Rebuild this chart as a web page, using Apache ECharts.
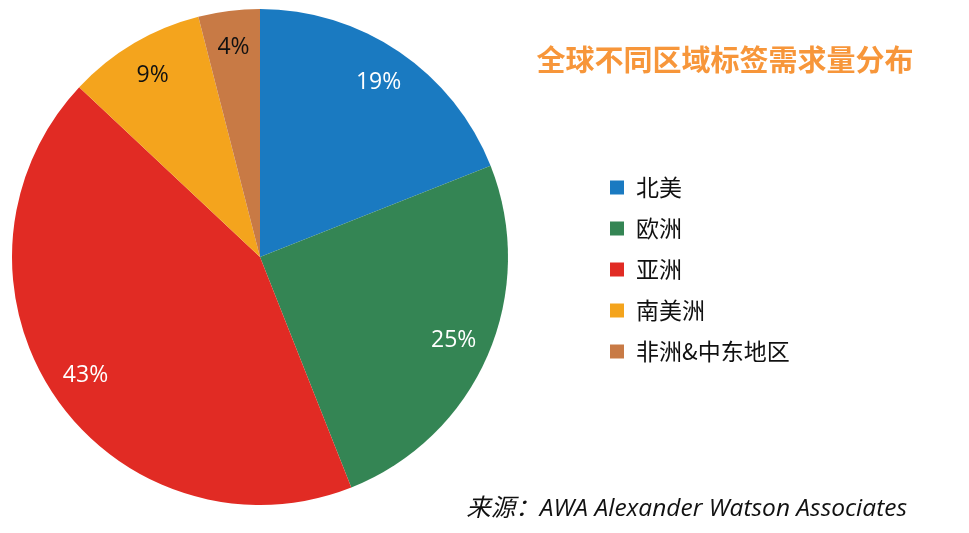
<!DOCTYPE html>
<html><head><meta charset="utf-8">
<script src="https://cdn.jsdelivr.net/npm/echarts@6/dist/echarts.min.js"></script>
<style>html,body{margin:0;padding:0;background:#fff;}#c{width:969px;height:533px;}</style>
</head><body><div id="c"></div>
<script>
const categories = ['北美', '欧洲', '亚洲', '南美洲', '非洲&中东地区'];
const values = [19, 25, 43, 9, 4];
const colors = ['#1a7ac1', '#348554', '#e12b24', '#f4a41d', '#c87a45'];
const labelColors = ['#ffffff', '#ffffff', '#ffffff', '#111111', '#111111'];
const titleText = '全球不同区域标签需求量分布';
const sourceText = '来源：AWA Alexander Watson Associates';

const data = categories.map((n, i) => ({ name: n, value: values[i], itemStyle: { color: colors[i] } }));
const labelData = categories.map((n, i) => ({ name: n, value: values[i], label: { color: labelColors[i] } }));

const chart = echarts.init(document.getElementById('c'));
chart.setOption({
  backgroundColor: '#ffffff',
  animation: false,
  title: [{
    text: titleText, left: 720, top: 40, textAlign: 'center',
    textStyle: { color: '#f7963a', fontSize: 29, fontWeight: 'bold', fontFamily: 'Noto Sans CJK SC' }
  }, {
    text: sourceText, right: 57, top: 492,
    textStyle: { color: '#111', fontSize: 24.5, fontStyle: 'italic', fontWeight: 'normal', fontFamily: 'Open Sans, Noto Sans CJK SC' }
  }],
  legend: {
    orient: 'vertical', left: 605, top: 171,
    icon: 'rect', itemWidth: 14, itemHeight: 14, itemGap: 18,
    data: categories,
    textStyle: { fontSize: 23, color: '#111', fontFamily: 'Noto Sans CJK SC', padding: [0, 0, 0, 7] }
  },
  series: [{
    type: 'pie', center: [260, 257], radius: [0, 248], startAngle: 90, clockwise: true,
    data: data, label: { show: false }, labelLine: { show: false }
  }, {
    type: 'pie', center: [260, 257], radius: [168, 248], startAngle: 90, clockwise: true,
    data: labelData, silent: true,
    itemStyle: { color: 'rgba(0,0,0,0)' },
    label: { show: true, position: 'inside', formatter: '{c}%', fontSize: 23, fontFamily: 'Open Sans' },
    labelLine: { show: false }, emphasis: { disabled: true }
  }]
});
</script></body></html>
